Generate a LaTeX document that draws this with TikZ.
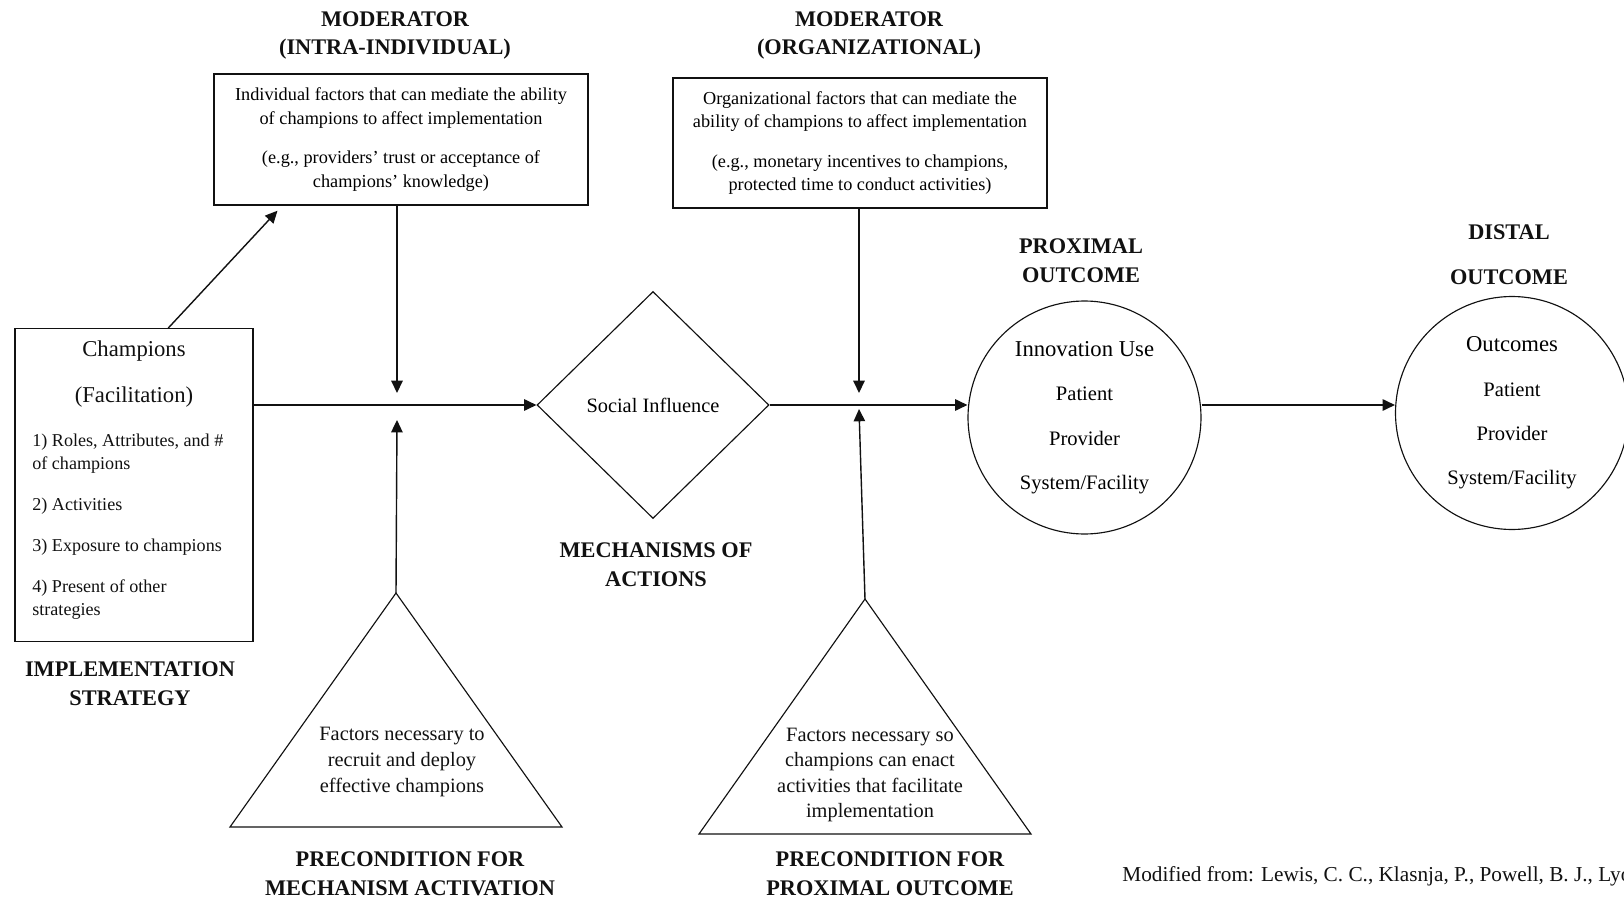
\documentclass[tikz,border=0pt]{standalone}
\usepackage{fontspec}
\setmainfont{Liberation Serif}
\usepackage{xcolor}
\usepackage{tikz}
\usetikzlibrary{calc,shapes.geometric,arrows.meta}
\definecolor{ink}{HTML}{111111}
\tikzset{
  box/.style={draw=ink, line width=0.8pt, inner sep=0pt, align=center},
  thinl/.style={draw=ink, line width=0.65pt, line join=miter},
  arr/.style={draw=ink, line width=0.8pt, -{Triangle[length=7pt,width=6.5pt]}},
  ttl/.style={text=ink, inner sep=0pt, align=center, font=\bfseries\fontsize{12.7}{16.4}\selectfont},
  mtxt/.style={font=\fontsize{10.4}{13.3}\selectfont},
  itm/.style={text=ink, inner sep=0pt, align=left, font=\fontsize{10.3}{13}\selectfont},
  circ/.style={circle, draw=ink, line width=0.65pt, minimum size=4.66cm, inner sep=0pt, align=center, font=\fontsize{11.7}{25.3}\selectfont},
  tri/.style={text=ink, inner sep=0pt, align=center, font=\fontsize{11.6}{14.6}\selectfont},
}

\begin{document}
\begin{tikzpicture}[x=0.02cm, y=-0.02cm]
  \useasboundingbox (0,0) rectangle (1624,899);
  \clip (0,0) rectangle (1624,899);
  % headings
  \node[ttl] (tModA) at (395,35.5) {MODERATOR\\(INTRA-INDIVIDUAL)};
  \node[ttl] (tModB) at (869,35.5) {MODERATOR\\(ORGANIZATIONAL)};
  \node[ttl] (tProx) at (1081,261) {PROXIMAL\\OUTCOME};
  \node[ttl] (tDist) at (1509,254.5) {DISTAL\\[9pt]OUTCOME};
  \node[ttl] (tImpl) at (130,683.5) {IMPLEMENTATION\\STRATEGY};
  \node[ttl] (tMech) at (656,565) {MECHANISMS OF\\ACTIONS};
  \node[ttl] (tPreA) at (410,874) {PRECONDITION FOR\\MECHANISM ACTIVATION};
  \node[ttl] (tPreB) at (890,874) {PRECONDITION FOR\\PROXIMAL OUTCOME};
  % moderators
  \node[box, mtxt, minimum width=7.48cm, minimum height=2.62cm] (modA) at (401,139.5)
    {Individual factors that can mediate the ability\\ of champions to affect implementation\\[9.4pt]
     (e.g., providers' trust or acceptance of\\ champions' knowledge)};
  \node[box, mtxt, minimum width=7.48cm, minimum height=2.6cm] (modB) at (860,143)
    {Organizational factors that can mediate the\\ ability of champions to affect implementation\\[9.4pt]
     (e.g., monetary incentives to champions,\\ protected time to conduct activities)};
  % strategy
  \node[box, minimum width=4.76cm, minimum height=6.25cm] (champ) at (134,485) {};
  \node[tri, font=\fontsize{12.9}{15}\selectfont] (champT) at (134,374) {Champions\\[10.8pt](Facilitation)};
  \node[itm, anchor=west] (champL) at (32,527)
    {1) Roles, Attributes, and \#\\ of champions\\[10.4pt] 2) Activities\\[10.4pt]
     3) Exposure to champions\\[10.4pt] 4) Present of other\\ strategies};
  % mechanism
  \node[diamond, thinl, minimum width=4.64cm, minimum height=4.54cm, inner sep=0pt,
        font=\fontsize{11.6}{14}\selectfont] (soc) at (653,405) {Social Influence};
  % outcomes
  \node[circ] (prox) at (1084.5,417.5)
    {{\fontsize{12.9}{25.3}\selectfont Innovation Use}\\ Patient\\ Provider\\ System/Facility};
  \node[circ] (dist) at (1512,413)
    {{\fontsize{12.9}{25.3}\selectfont Outcomes}\\ Patient\\ Provider\\ System/Facility};
  % preconditions
  \coordinate (pA) at (396,593);
  \coordinate (pAl) at (230,827);
  \coordinate (pAr) at (562,827);
  \draw[thinl] (pA) -- (pAl) -- (pAr) -- cycle;
  \node[tri] (preA) at (402,762) {Factors necessary to\\ recruit and deploy\\ effective champions};
  \coordinate (pB) at (865,599);
  \coordinate (pBl) at (699,834);
  \coordinate (pBr) at (1031,834);
  \draw[thinl] (pB) -- (pBl) -- (pBr) -- cycle;
  \node[tri] (preB) at (870,775) {Factors necessary so\\ champions can enact\\ activities that facilitate\\ implementation};
  % connectors
  \coordinate (jA) at (397,406);
  \coordinate (jB) at (859,406);
  \draw[arr] ($(champ.north west)!0.643!(champ.north east)$) -- ($(modA.south west)!0.171!(modA.south east)+(0,5)$);
  \draw[arr] (soc.west -| champ.east) -- (soc.west);
  \draw[arr] (soc.east) -- (soc.east -| prox.west);
  \draw[arr] (prox.east |- soc.east) -- (dist.west |- soc.east);
  \draw[arr] (modA.south -| jA) -- ($(jA)+(0,-13)$);
  \draw[arr] (pA) -- ($(jA)+(0,14)$);
  \draw[arr] (modB.south -| jB) -- ($(jB)+(0,-13)$);
  \draw[arr] (pB) -- ($(jB)+(0,3)$);
  % source
  \node[text=ink, inner sep=0pt, anchor=west, font=\fontsize{12.1}{14}\selectfont] (src) at (1122,876)
    {Modified from: Lewis, C. C., Klasnja, P., Powell, B. J., Lyon, A. R.,};
\end{tikzpicture}
\end{document}
